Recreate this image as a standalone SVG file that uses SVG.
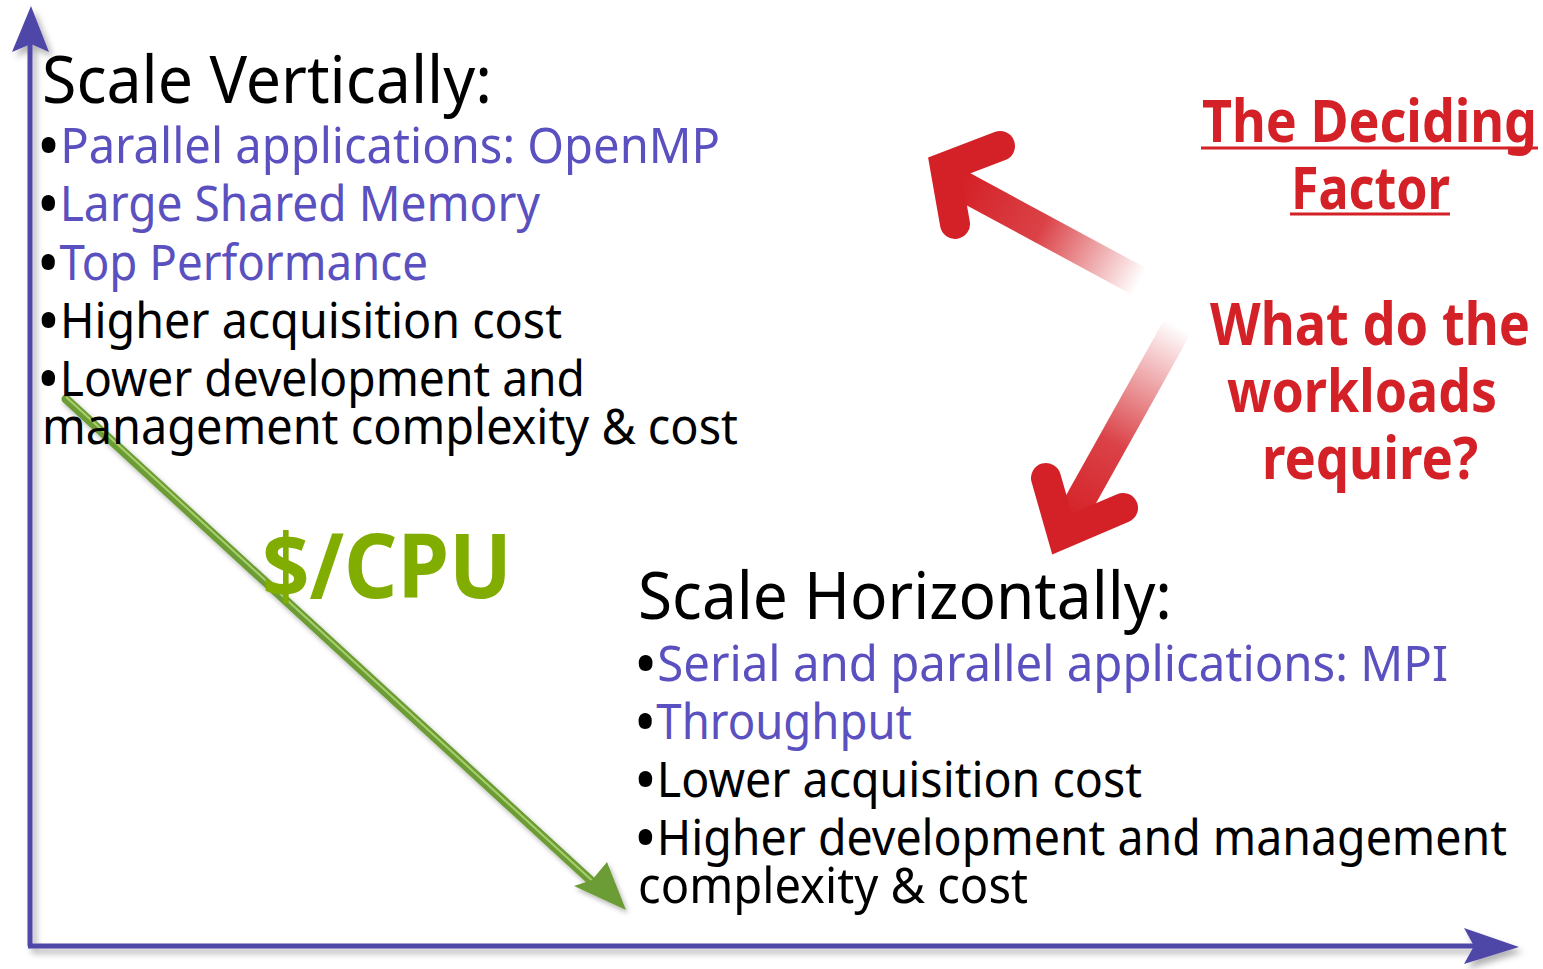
<svg xmlns="http://www.w3.org/2000/svg" width="1543" height="969" viewBox="0 0 1543 969">
<style>
.t{font-family:"Noto Sans","Open Sans","Liberation Sans",sans-serif;fill:#000}
.h{font-size:66px}
.b{font-size:49px}
.bu{font-size:64px}
.bl{fill:#5a50c0}
.r{font-family:"Noto Sans","Open Sans","Liberation Sans",sans-serif;font-weight:bold;fill:#d42127;font-size:60px}
.g{font-family:"Noto Sans","Open Sans","Liberation Sans",sans-serif;font-weight:bold;fill:#80ad00;font-size:90px}
.ax{stroke:#5047a8;stroke-width:5;fill:none}
.ah{fill:#5047a8}
</style>
<defs>
<filter id="sh" x="-20%" y="-20%" width="140%" height="140%">
<feDropShadow dx="4" dy="5" stdDeviation="3" flood-color="#000" flood-opacity="0.3"/>
</filter>
<filter id="sh2" x="-20%" y="-20%" width="140%" height="140%">
<feDropShadow dx="2" dy="3" stdDeviation="2.5" flood-color="#000" flood-opacity="0.3"/>
</filter>
<linearGradient id="gUp" gradientUnits="userSpaceOnUse" x1="960" y1="186" x2="1140" y2="282">
<stop offset="0" stop-color="#d42127"/>
<stop offset="0.45" stop-color="#d42127" stop-opacity="0.85"/>
<stop offset="1" stop-color="#d42127" stop-opacity="0"/>
</linearGradient>
<linearGradient id="gDn" gradientUnits="userSpaceOnUse" x1="1068" y1="520" x2="1178" y2="326">
<stop offset="0" stop-color="#d42127"/>
<stop offset="0.4" stop-color="#d42127" stop-opacity="0.85"/>
<stop offset="1" stop-color="#d42127" stop-opacity="0"/>
</linearGradient>
</defs>

<g id="connectors">
<g id="axes" filter="url(#sh)">
<line class="ax" x1="30" y1="40" x2="30" y2="946"/>
<line class="ax" x1="28" y1="946" x2="1478" y2="946"/>
<path class="ah" d="M31,6 L49,52 L31,44 L12,52 Z"/>
<path class="ah" d="M1519,947 L1464,928 L1474,946 L1464,964 Z"/>
</g>
<g id="green-arrow" filter="url(#sh2)">
<line x1="66" y1="399" x2="600" y2="889" stroke="#6c9c34" stroke-width="9" stroke-linecap="round"/>
<line x1="66" y1="397" x2="598" y2="886" stroke="#a9cf6a" stroke-width="2"/>
<path d="M626,910 L574,886 L592,880 L607,862 Z" fill="#6c9c34"/>
</g>
<g id="red-arrow-up">
<line x1="955" y1="182" x2="1142" y2="283" stroke="url(#gUp)" stroke-width="30"/>
<polyline points="1000,146 945,167 955,224" fill="none" stroke="#d42127" stroke-width="30" stroke-linejoin="miter" stroke-linecap="round"/>
</g>
<g id="red-arrow-down">
<line x1="1065" y1="528" x2="1180" y2="322" stroke="url(#gDn)" stroke-width="30"/>
<polyline points="1046,478 1062,534 1123,508" fill="none" stroke="#d42127" stroke-width="30" stroke-linejoin="miter" stroke-linecap="round"/>
</g>
</g>

<g id="vertical">
<text class="t h" x="42" y="103" textLength="450" lengthAdjust="spacingAndGlyphs">Scale Vertically:</text>
<text class="t b" x="37" y="163" textLength="683" lengthAdjust="spacingAndGlyphs"><tspan class="bu" dy="5">•</tspan><tspan class="bl" dy="-5">Parallel applications: OpenMP</tspan></text>
<text class="t b" x="37" y="221" textLength="503" lengthAdjust="spacingAndGlyphs"><tspan class="bu" dy="5">•</tspan><tspan class="bl" dy="-5">Large Shared Memory</tspan></text>
<text class="t b" x="37" y="280" textLength="391" lengthAdjust="spacingAndGlyphs"><tspan class="bu" dy="5">•</tspan><tspan class="bl" dy="-5">Top Performance</tspan></text>
<text class="t b" x="37" y="338" textLength="525" lengthAdjust="spacingAndGlyphs"><tspan class="bu" dy="5">•</tspan><tspan dy="-5">Higher acquisition cost</tspan></text>
<text class="t b" x="37" y="396" textLength="548" lengthAdjust="spacingAndGlyphs"><tspan class="bu" dy="5">•</tspan><tspan dy="-5">Lower development and</tspan></text>
<text class="t b" x="42" y="444" textLength="696" lengthAdjust="spacingAndGlyphs">management complexity &amp; cost</text>
</g>

<g id="cost-label">
<text class="g" x="262" y="598" textLength="250" lengthAdjust="spacingAndGlyphs">$/CPU</text>
</g>

<g id="horizontal">
<text class="t h" x="638" y="619" textLength="534" lengthAdjust="spacingAndGlyphs">Scale Horizontally:</text>
<text class="t b" x="634" y="681" textLength="814" lengthAdjust="spacingAndGlyphs"><tspan class="bu" dy="5">•</tspan><tspan class="bl" dy="-5">Serial and parallel applications: MPI</tspan></text>
<text class="t b" x="634" y="739" textLength="278" lengthAdjust="spacingAndGlyphs"><tspan class="bu" dy="5">•</tspan><tspan class="bl" dy="-5">Throughput</tspan></text>
<text class="t b" x="634" y="797" textLength="508" lengthAdjust="spacingAndGlyphs"><tspan class="bu" dy="5">•</tspan><tspan dy="-5">Lower acquisition cost</tspan></text>
<text class="t b" x="634" y="855" textLength="873" lengthAdjust="spacingAndGlyphs"><tspan class="bu" dy="5">•</tspan><tspan dy="-5">Higher development and management</tspan></text>
<text class="t b" x="638" y="903" textLength="390" lengthAdjust="spacingAndGlyphs">complexity &amp; cost</text>
</g>

<g id="deciding-factor">
<text class="r" x="1202" y="142" textLength="335" lengthAdjust="spacingAndGlyphs">The Deciding</text>
<line x1="1201" y1="148" x2="1538" y2="148" stroke="#d42127" stroke-width="3"/>
<text class="r" x="1291" y="209" textLength="159" lengthAdjust="spacingAndGlyphs">Factor</text>
<line x1="1290" y1="214" x2="1450" y2="214" stroke="#d42127" stroke-width="3"/>
</g>

<g id="question">
<text class="r" x="1210" y="345" textLength="320" lengthAdjust="spacingAndGlyphs">What do the</text>
<text class="r" x="1227" y="412" textLength="270" lengthAdjust="spacingAndGlyphs">workloads</text>
<text class="r" x="1262" y="479" textLength="216" lengthAdjust="spacingAndGlyphs">require?</text>
</g>
</svg>
